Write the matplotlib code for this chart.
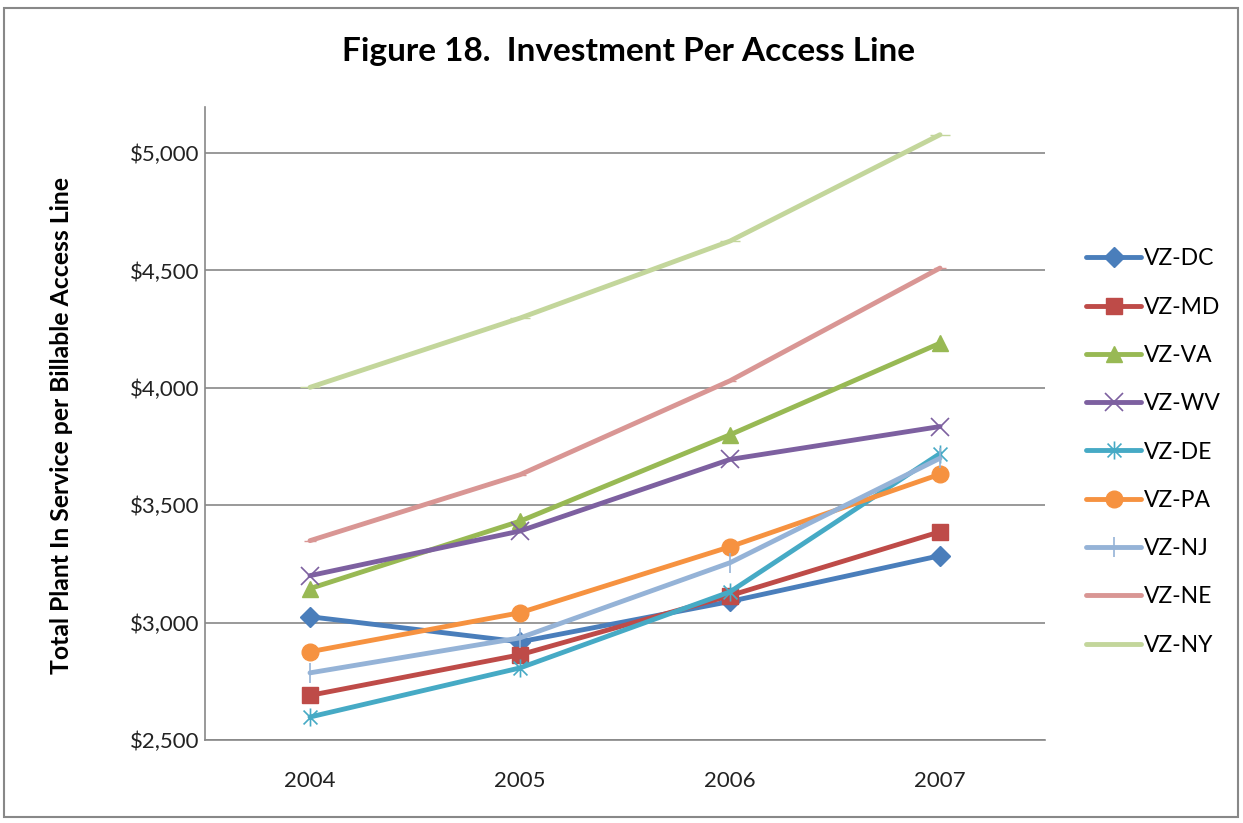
import matplotlib
matplotlib.use("Agg")
import matplotlib.pyplot as plt
from matplotlib.patches import Rectangle
from matplotlib.path import Path
from matplotlib.ticker import FuncFormatter

plt.rcParams['font.family'] = ['Lato', 'DejaVu Sans']

years = ["2004", "2005", "2006", "2007"]
series_names = ["VZ-DC", "VZ-MD", "VZ-VA", "VZ-WV", "VZ-DE", "VZ-PA", "VZ-NJ", "VZ-NE", "VZ-NY"]
vz_dc = [3025, 2918, 3090, 3285]
vz_md = [2690, 2863, 3115, 3387]
vz_va = [3145, 3432, 3800, 4190]
vz_wv = [3200, 3390, 3695, 3835]
vz_de = [2598, 2807, 3131, 3720]
vz_pa = [2876, 3042, 3323, 3632]
vz_nj = [2786, 2935, 3255, 3700]
vz_ne = [3349, 3630, 4030, 4510]
vz_ny = [4002, 4297, 4625, 5078]
y_ticks = [2500, 3000, 3500, 4000, 4500, 5000]

star = Path([(-1, -1), (1, 1), (-1, 1), (1, -1), (0, -1.3), (0, 1.3)],
            [Path.MOVETO, Path.LINETO, Path.MOVETO, Path.LINETO, Path.MOVETO, Path.LINETO])

values = [vz_dc, vz_md, vz_va, vz_wv, vz_de, vz_pa, vz_nj, vz_ne, vz_ny]
colors = ["#4A7EBB", "#BE4B48", "#98B954", "#7D60A0", "#46AAC5", "#F69240", "#95B3D7", "#D99694", "#C3D69B"]
markers = ["D", "s", "^", "x", star, "o", "|", "_", "_"]
msizes = [10, 12, 12, 13, 13, 12, 15, 8, 14]

fig = plt.figure(figsize=(12.43, 8.23), dpi=100)
fig.patches.append(Rectangle((4/1243, 6/823), 1234/1243, 809/823, transform=fig.transFigure,
                             fill=False, edgecolor="#888888", linewidth=1.5))
ax = fig.add_axes([205/1243, 1-740/823, 840/1243, 633/823])

x = list(range(len(years)))
for name, vals, c, m, ms in zip(series_names, values, colors, markers, msizes):
    mew = 1.2 if (m is star or m in ("x", "|")) else 1
    ax.plot(x, vals, color=c, linewidth=3.5, marker=m, markersize=ms, markeredgewidth=mew,
            markeredgecolor=c, markerfacecolor=c, label=name, solid_joinstyle='round', solid_capstyle='round')

ax.set_xlim(-0.5, 3.5)
ax.set_ylim(2500, 5196)
ax.set_xticks(x)
ax.set_xticklabels(years)
ax.set_yticks(y_ticks)
ax.yaxis.set_major_formatter(FuncFormatter(lambda v, p: "${:,.0f}".format(v)))
ax.tick_params(axis='both', length=0, labelsize=16, colors="#222222")
ax.tick_params(axis='x', pad=22)
ax.tick_params(axis='y', pad=4)
ax.grid(axis='y', color="#888888", linewidth=1.2)
ax.set_axisbelow(True)
for s in ["top", "right"]:
    ax.spines[s].set_visible(False)
for s in ["left", "bottom"]:
    ax.spines[s].set_color("#888888")
    ax.spines[s].set_linewidth(1.2)

fig.text(62/1243, 1-425/823, "Total Plant In Service per Billable Access Line", fontsize=17.8, fontweight='bold',
         rotation=90, ha='center', va='center')
fig.text(628/1243, 1-52/823, "Figure 18.  Investment Per Access Line", fontsize=24, fontweight='bold',
         ha='center', va='center')

leg = ax.legend(loc='center left', frameon=False,
                fontsize=16.5, handlelength=2.4, labelspacing=1.19, handletextpad=0.15, borderaxespad=0,
                borderpad=0)
leg.set_bbox_to_anchor((1086/1243, 1-452/823), transform=fig.transFigure)

fig.savefig("out.png", dpi=100)
